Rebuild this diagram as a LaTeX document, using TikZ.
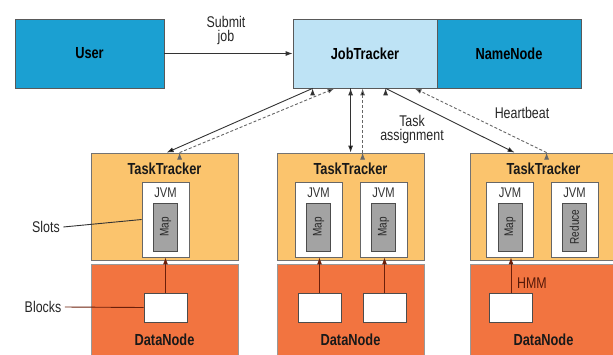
\documentclass[tikz,border=0pt]{standalone}
\usepackage{fontspec}
\setmainfont{Liberation Sans}[FakeStretch=0.8]
\usetikzlibrary{arrows.meta,positioning}

\definecolor{userblue}{HTML}{1BA0D2}
\definecolor{jtblue}{HTML}{BEE3F5}
\definecolor{ttorange}{HTML}{FBC46D}
\definecolor{dnorange}{HTML}{F27440}
\definecolor{mapgray}{HTML}{A3A3A3}
\definecolor{linegray}{HTML}{333333}
\definecolor{blockred}{HTML}{6B1F0A}

\begin{document}
\begin{tikzpicture}[x=1pt,y=-1pt]
  \tikzset{box/.style = {shape=rectangle,draw=black!65,line width=0.8pt,inner sep=0pt}}
  \tikzset{master/.style = {box,minimum width=144pt,minimum height=69pt,font=\fontsize{16}{18}\selectfont\bfseries}}
  \tikzset{tracker/.style = {box,fill=ttorange,draw=black!55,minimum width=147pt,minimum height=107pt}}
  \tikzset{datanode/.style = {box,fill=dnorange,draw=black!40,minimum width=147pt,minimum height=96pt}}
  \tikzset{jvm/.style = {box,fill=white,draw=black!60,minimum width=47pt,minimum height=75pt}}
  \tikzset{slot/.style = {box,fill=mapgray,draw=black!70,minimum width=48pt,minimum height=24pt,font=\fontsize{12.5}{13}\selectfont,text=black!85,rotate=90}}
  \tikzset{block/.style = {box,fill=white,draw=black!70,minimum width=43pt,minimum height=29pt}}
  \tikzset{heading/.style = {font=\fontsize{16}{18}\selectfont\bfseries,text=black!90}}
  \tikzset{caption/.style = {font=\fontsize{15.5}{17}\selectfont,text=black!85,align=center}}
  \tikzset{edge/.style = {draw=linegray,line width=0.9pt,-{Latex[length=7pt,width=5pt]}}}
  \tikzset{beat/.style = {edge,draw=black!60,dash pattern=on 3pt off 2pt}}

  \clip (0,0) rectangle (613,354);

  % master side
  \node[master,fill=userblue,minimum width=149pt] (User) at (89.5,53.5) {User};
  \node[master,fill=jtblue] (JT) at (365,53.5) {JobTracker};
  \node[master,fill=userblue] (NN) at (509,53.5) {NameNode};

  % worker side
  \foreach \n/\x in {1/164.5, 2/350.5, 3/543.5} {
    \node[tracker] (TT\n) at (\x,206.5) {};
    \node[heading] at ([yshift=-16pt]TT\n.north) {TaskTracker};
    \node[datanode] (DN\n) at (\x,312) {};
    \node[heading] at ([yshift=-76pt]DN\n.north) {DataNode};
  }

  \foreach \n/\x in {1/165.5, 2/318.5, 3/383.5, 4/510, 5/574.5} {
    \node[jvm] (JVM\n) at (\x,219.5) {};
    \node[font=\fontsize{14}{15}\selectfont,text=black!80] at ([yshift=-11pt]JVM\n.north) {JVM};
  }
  \foreach \n in {1,...,4}
    \node[slot] (Map\n) at ([yshift=-7.5pt]JVM\n.center) {Map};
  \node[slot] (Reduce) at ([yshift=-7.5pt]JVM5.center) {Reduce};

  \foreach \n/\x/\j in {1/165.5/1, 2/319.5/2, 3/384.5/3, 4/511/4} {
    \node[block] (B\n) at (\x,307.5) {};
    \draw[edge,draw=blockred] (B\n.north) -- (B\n.north |- JVM\j.south);
  }

  % side labels
  \node[caption] (Slots) at (46,227) {Slots};
  \node[caption] (Blocks) at (43,307) {Blocks};
  \draw[draw=linegray,line width=0.9pt] (Slots.east) -- (JVM1.west);
  \draw[draw=blockred,line width=0.9pt] (Blocks.east) -- (B1.west);
  \node[caption,text=blockred!80!black] at (532,283) {HMM};

  % job submission
  \draw[edge] (User) -- (JT);
  \node[caption] at (226,30.5) {Submit\\[-3pt]job};

  % attach points on the trackers
  \foreach \c/\dx in {jt1/20, jt2/42, jt3/58, jt4/70, jt5/93, jt6/122}
    \coordinate (\c) at ([xshift=\dx pt]JT.south west);
  \foreach \c/\n/\dx in {tt1/1/76, tt1b/1/89, tt2/2/74, tt2b/2/86, tt3/3/45, tt3b/3/77}
    \coordinate (\c) at ([xshift=\dx pt]TT\n.north west);

  \foreach \from/\to in {jt1/tt1, jt3/tt2, jt5/tt3}
    \path[edge] (\from) edge (\to);
  \foreach \from/\to in {tt1b/jt2, tt2b/jt4, tt3b/jt6}
    \path[beat] (\from) edge (\to);

  \node[caption] at (412,129) {Task\\[-3pt]assignment};
  \node[caption] at (522,113) {Heartbeat};
\end{tikzpicture}
\end{document}
